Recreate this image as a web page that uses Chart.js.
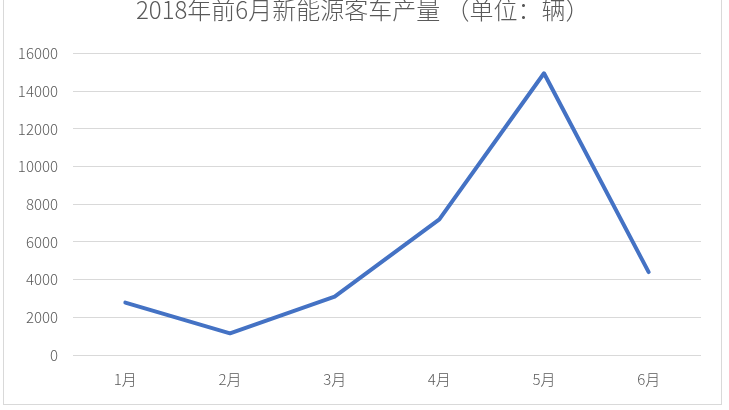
<!DOCTYPE html>
<html>
<head>
<meta charset="utf-8">
<script src="https://cdn.jsdelivr.net/npm/chart.js@4/dist/chart.umd.min.js"></script>
<style>
  html, body { margin: 0; padding: 0; background: #fff; }
  #wrap { position: relative; width: 729px; height: 410px; overflow: hidden; }
  #frame { position: absolute; left: 3px; top: -20px; width: 719px; height: 425px; border: 1px solid #d9d9d9; box-sizing: border-box; }
  canvas { position: absolute; left: 0; top: 0; }
</style>
</head>
<body>
<div id="wrap">
  <div id="frame"></div>
  <canvas id="c" width="729" height="410"></canvas>
</div>
<script>
const titleText = '2018年前6月新能源客车产量 （单位：辆）';
const categories = ['1月', '2月', '3月', '4月', '5月', '6月'];
const production = [2780, 1150, 3100, 7200, 14950, 4400];
const yTicks = [0, 2000, 4000, 6000, 8000, 10000, 12000, 14000, 16000];

const fontFamily = '"Noto Sans CJK SC", "Microsoft YaHei", sans-serif';

const titlePlugin = {
  id: 'topTitle',
  afterDraw(chart) {
    const ctx = chart.ctx;
    ctx.save();
    ctx.font = '300 24px ' + fontFamily;
    ctx.fillStyle = '#595959';
    ctx.textAlign = 'left';
    ctx.textBaseline = 'alphabetic';
    ctx.fillText(titleText, 136, 19);
    ctx.restore();
  }
};

new Chart(document.getElementById('c'), {
  type: 'line',
  data: {
    labels: categories,
    datasets: [{
      data: production,
      borderColor: '#4472C4',
      borderWidth: 4,
      pointRadius: 0,
      pointHoverRadius: 0,
      tension: 0,
      fill: false,
      borderJoinStyle: 'round',
      borderCapStyle: 'round'
    }]
  },
  plugins: [titlePlugin],
  options: {
    responsive: false,
    animation: false,
    events: [],
    layout: { padding: { left: 0, right: 28, top: 53.5, bottom: 15 } },
    plugins: {
      legend: { display: false },
      tooltip: { enabled: false },
      title: { display: false }
    },
    scales: {
      x: {
        offset: true,
        grid: { display: false, drawTicks: false },
        border: { display: false },
        ticks: { color: '#595959', font: { family: fontFamily, size: 15, weight: '300' }, padding: 15 },
        afterFit: (s) => { s.height = 40; }
      },
      y: {
        min: 0,
        max: 16000,
        afterBuildTicks: (s) => { s.ticks = yTicks.map(v => ({ value: v })); },
        grid: { color: '#d9d9d9', lineWidth: 1, drawTicks: false },
        border: { display: false },
        ticks: {
          color: '#595959',
          font: { family: fontFamily, size: 15, weight: '300' },
          padding: 15,
          callback: (v) => String(v)
        },
        afterFit: (s) => { s.width = 73; }
      }
    }
  }
});
</script>
</body>
</html>
